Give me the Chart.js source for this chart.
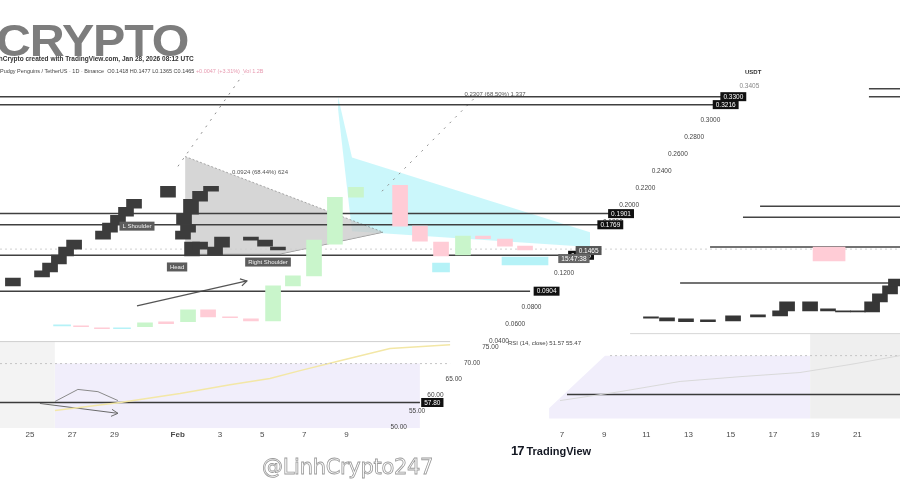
<!DOCTYPE html>
<html><head><meta charset="utf-8">
<script src="https://cdn.jsdelivr.net/npm/chart.js@4.4.1/dist/chart.umd.min.js"></script>
<style>
html,body{margin:0;padding:0;background:#fff;width:900px;height:482px;overflow:hidden;font-family:"Liberation Sans",Arial,sans-serif}
#wrap{position:relative;width:900px;height:482px}
#c{position:absolute;left:0;top:0}
.t{position:absolute;white-space:nowrap;line-height:1}
#logo{left:-4px;top:19px;font-size:44px;font-weight:bold;color:#7d7d7d;letter-spacing:-1px;transform:scaleX(1.1);transform-origin:left top}
#sub{left:-11px;top:56px;font-size:6.5px;color:#333;font-weight:bold}
#ohlc{left:0;top:69px;font-size:5.5px;color:#444}
#ohlc span{color:#e79ab0}
#usdt{left:745px;top:69px;font-size:6px;color:#333;font-weight:bold}
#rsilab{left:508px;top:340px;font-size:6px;color:#444}
#tv{left:511px;top:444px;font-size:11px;font-weight:bold;color:#131722}
#tv b{font-size:13px;margin-right:3px;letter-spacing:-1px}
#wm{left:262px;top:457px;font-size:21px;color:#fff;-webkit-text-stroke:0.8px #9a9a9a;font-family:"DejaVu Sans",sans-serif;letter-spacing:-0.3px}
</style></head><body>
<div id="wrap">
<canvas id="c" width="900" height="482"></canvas>
<div class="t" id="logo">CRYPTO</div>
<div class="t" id="sub">LinhCrypto created with TradingView.com, Jan 28, 2026 08:12 UTC</div>
<div class="t" id="ohlc">Pudgy Penguins / TetherUS · 1D · Binance &nbsp;O0.1418 H0.1477 L0.1365 C0.1465 <span>+0.0047 (+3.31%) &nbsp;Vol 1.2B</span></div>
<div class="t" id="usdt">USDT</div>
<div class="t" id="rsilab">RSI (14, close) 51.57 55.47</div>
<div class="t" id="tv"><b>17</b>TradingView</div>
<div class="t" id="wm">@LinhCrypto247</div>
</div>
<script>
// ---- x axis (day index, Jan 25 = 0) ----
const tickDays   = [0, 2, 4, 7, 9, 11, 13, 15, 25.21, 27.21, 29.21, 31.21, 33.21, 35.21, 37.21, 39.21];
const tickLabels = ["25","27","29","Feb","3","5","7","9","7","9","11","13","15","17","19","21"];

// ---- dark candles (left) ----
const darkDays   = [-0.81,0.57,0.95,1.37,1.71,2.09,3.46,3.79,4.17,4.55,4.93,6.54,7.25,7.30,7.49,7.63,7.68,8.06,8.06,8.58,8.77,9.10,10.47,11.14,11.75];
const darkTop    = [0.1141,0.1224,0.1318,0.1412,0.1506,0.1588,0.1694,0.1788,0.1882,0.1976,0.2071,0.2224,0.1694,0.1894,0.1765,0.2071,0.1565,0.2165,0.1565,0.2224,0.1506,0.1624,0.1624,0.1588,0.1506];
const darkBottom = [0.1047,0.1153,0.1212,0.1306,0.1400,0.1482,0.1600,0.1682,0.1776,0.1871,0.1965,0.2094,0.1600,0.1776,0.1682,0.1894,0.1400,0.2047,0.1482,0.2165,0.1412,0.1506,0.1588,0.1518,0.1471];

// ---- dark candles (right) ----
const rDays   = [29.43,30.19,31.09,32.13,33.32,34.50,35.55,35.88,36.97,37.82,38.53,39.24,39.91,40.28,40.76,41.04];
const rTop    = [0.0682,0.0671,0.0659,0.0647,0.0694,0.0706,0.0753,0.0859,0.0859,0.0776,0.0753,0.0753,0.0859,0.0953,0.1047,0.1129];
const rBottom = [0.0665,0.0635,0.0624,0.0624,0.0635,0.0682,0.0694,0.0753,0.0753,0.0753,0.0741,0.0741,0.0741,0.0859,0.0953,0.1047];

// ---- pastel candles ----
const gDays   = [5.45,7.49,11.52,12.46,13.46,14.45,15.45,20.52];
const gTop    = [0.0612,0.0765,0.1047,0.1165,0.1588,0.2094,0.2212,0.1635];
const gBottom = [0.0565,0.0624,0.0635,0.1047,0.1165,0.1541,0.2094,0.1412];
const pDays   = [2.42,3.41,6.45,8.44,9.48,10.47,17.54,18.48,19.48,21.47,22.51,23.46];
const pTop    = [0.0576,0.0553,0.0624,0.0765,0.0682,0.0659,0.2235,0.1753,0.1565,0.1635,0.1600,0.1518];
const pBottom = [0.0565,0.0541,0.0600,0.0682,0.0671,0.0635,0.1753,0.1576,0.1400,0.1606,0.1518,0.1471];
const pWideDays = [37.87], pWideTop = [0.1506], pWideBottom = [0.1341];
const cDays   = [1.52,4.36,19.48];
const cTop    = [0.0588,0.0553,0.1318];
const cBottom = [0.0576,0.0541,0.1212];
const cWideDays = [23.46], cWideTop = [0.1388], cWideBottom = [0.1294];

// ---- price levels ----
const levelValues = [0.3282,0.3188,0.1901,0.1769,0.1409,0.0985];
const levelLabels = ["0.3300","0.3216","0.1901","0.1769","0.1409","0.0904"];
const levelEnds   = [33.65,32.94,27.49,27.16,25.12,23.70];
const rLevelValues = [0.3376,0.3282,0.1988,0.1859,0.1506,0.1082];
const rLevelStarts = [39.76,39.76,34.60,33.79,32.23,30.81];
const dottedLevel = 0.1482;
const lastPrice = 0.1465, countdown = "15:47:38";
const priceTicks = [0.30,0.28,0.26,0.24,0.22,0.20,0.18,0.12,0.08,0.06,0.04];

// ---- drawings ----
const triDays = [7.35,11.85,16.73], triUpper = [0.2576,0.2147,0.1682], triLower = [0.1424,0.1424,0.1682];
const cyanDays = [14.60,15.26,26.54], cyanUpper = [0.3282,0.2565,0.1682], cyanLower = [0.3129,0.1694,0.1506];
const arrowDays = [5.07,10.28], arrowVals = [0.0812,0.1106];
const fan1Days = [7.01,10.09], fan1Vals = [0.2459,0.3541];
const fan2Days = [16.68,21.23], fan2Vals = [0.2165,0.3306];
const annTexts = ["L Shoulder","Head","Right Shoulder"], annDays = [5.07,6.97,11.28], annVals = [0.1753,0.1271,0.1329];
const measTexts = ["0.0924 (68.44%) 624","0.2307 (68.50%) 1,337"], measDays = [10.9,22.04], measVals = [0.2388,0.3306];

// ---- RSI ----
const rsiLeftDays  = [1.18,4.27,7.11,9.48,11.37,12.80,14.69,17.06,19.91];
const rsiLeftVals  = [55.3,57.8,60.6,63.4,65.3,67.8,70.9,74.7,75.9];
const rsiRightDays = [25.12,27.96,30.81,33.65,36.49,38.86,41.23];
const rsiRightVals = [58.4,61.2,64.4,65.9,67.2,69.7,72.5];
const rsiNow = 57.80;
const rsiTicks = [75,70,65,60,55,50];
const rsiDrawDays = [1.18,2.27,3.22,4.17], rsiDrawVals = [58.1,61.9,61.2,58.4];
const rsiArrowDays = [0.47,4.17], rsiArrowVals = [57.5,54.4];

const X0 = -1.422, X1 = 41.232;

function pts(xs, ys){ return xs.map((x,i)=>({x, y: ys[i]})); }
function bars(xs, top, bot){ return xs.map((x,i)=>({x, y:[bot[i], top[i]]})); }
function barSet(data, color, w){ return {type:'bar', data, backgroundColor:color, borderWidth:0, barThickness:w, grouped:false, minBarLength:1, yAxisID:'y', order:1}; }
function lineSet(data, color, w, axis, extra){ return Object.assign({type:'line', data, borderColor:color, borderWidth:w, pointRadius:0, fill:false, tension:0, yAxisID:axis, order:3}, extra||{}); }

const R = 'yRsi';
const datasets = [];
// RSI panel backgrounds
datasets.push(lineSet(pts([X0,1.18],[76.9,76.9]),'rgba(0,0,0,0)',0,R,{fill:{value:49.7},backgroundColor:'#f3f3f3',order:9}));
datasets.push(lineSet(pts([1.18,18.48],[70,70]),'rgba(0,0,0,0)',0,R,{fill:{value:49.7},backgroundColor:'#f1eefb',order:9}));
datasets.push(lineSet(pts([24.6,27.25,36.97],[56,72.5,72.5]),'rgba(0,0,0,0)',0,R,{fill:{value:52.8},backgroundColor:'#f1eefb',order:9}));
datasets.push(lineSet(pts([36.97,X1],[79.4,79.4]),'rgba(0,0,0,0)',0,R,{fill:{value:52.8},backgroundColor:'#efefef',order:9}));
// cyan & gray shapes
datasets.push(lineSet(pts(cyanDays,cyanUpper),'rgba(0,0,0,0)',0,'y',{fill:'+1',backgroundColor:'rgba(160,240,248,0.55)',order:8}));
datasets.push(lineSet(pts(cyanDays,cyanLower),'rgba(0,0,0,0)',0,'y',{order:8}));
datasets.push(lineSet(pts(triDays,triUpper),'rgba(120,120,120,0.6)',1,'y',{fill:'+1',backgroundColor:'rgba(200,200,200,0.75)',borderDash:[2,2],order:7}));
datasets.push(lineSet(pts(triDays,triLower),'rgba(110,110,110,0.8)',1,'y',{order:7}));
// RSI separators and lines
datasets.push(lineSet(pts([X0,19.91],[76.9,76.9]),'#cfcfcf',1,R));
datasets.push(lineSet(pts([28.44,X1],[79.4,79.4]),'#d6d6d6',1,R));
datasets.push(lineSet(pts([X0,19.91],[70,70]),'#c4c4c4',1,R,{borderDash:[2,3]}));
datasets.push(lineSet(pts([27.49,X1],[72.5,72.5]),'#c4c4c4',1,R,{borderDash:[2,3]}));
datasets.push(lineSet(pts(rsiLeftDays,rsiLeftVals),'#f3e7a6',1.5,R));
datasets.push(lineSet(pts(rsiRightDays,rsiRightVals),'#d9d9d9',1,R));
datasets.push(lineSet(pts(rsiDrawDays,rsiDrawVals),'#8a8a8a',1,R));
datasets.push(lineSet(pts(rsiArrowDays,rsiArrowVals),'#6a6a6a',1,R));
datasets.push(lineSet(pts([X0,18.48],[rsiNow,rsiNow]),'#3a3a3a',1.5,R));
datasets.push(lineSet(pts([25.45,X1],[60.3,60.3]),'#3a3a3a',1.5,R));
// price levels
levelValues.forEach((v,i)=>datasets.push(lineSet(pts([X0,levelEnds[i]],[v,v]),'#404040',1.5,'y')));
rLevelValues.forEach((v,i)=>datasets.push(lineSet(pts([rLevelStarts[i],X1],[v,v]),'#444444',1.5,'y')));
datasets.push(lineSet(pts([X0,X1],[dottedLevel,dottedLevel]),'#cfcfcf',1,'y',{borderDash:[2,3]}));
// drawings
datasets.push(lineSet(pts(arrowDays,arrowVals),'#555555',1.2,'y'));
datasets.push(lineSet(pts(fan1Days,fan1Vals),'#8c8c8c',1,'y',{borderDash:[2,6]}));
datasets.push(lineSet(pts(fan2Days,fan2Vals),'#8c8c8c',1,'y',{borderDash:[2,6]}));
// candles
datasets.push(barSet(bars(gDays,gTop,gBottom),'#c9f5cb',15));
datasets.push(barSet(bars(pDays,pTop,pBottom),'#ffccd6',15));
datasets.push(barSet(bars(pWideDays,pWideTop,pWideBottom),'#ffccd6',32));
datasets.push(barSet(bars(cDays,cTop,cBottom),'#b5f2f7',17));
datasets.push(barSet(bars(cWideDays,cWideTop,cWideBottom),'#b5f2f7',46));
datasets.push(barSet(bars(darkDays,darkTop,darkBottom),'#3c3c3c',15));
datasets.push(barSet(bars(rDays,rTop,rBottom),'#363636',15));

function box(ctx, text, cx, cy, bg, fg, font){
  ctx.font = font;
  const w = ctx.measureText(text).width + 6, h = 9;
  ctx.fillStyle = bg; ctx.fillRect(cx - w/2, cy - h/2, w, h);
  ctx.fillStyle = fg; ctx.textAlign='center'; ctx.textBaseline='middle';
  ctx.fillText(text, cx, cy + 0.5);
}

const labelPlugin = {
  id:'labels',
  afterDatasetsDraw(chart){
    const {ctx} = chart; const x = chart.scales.x, y = chart.scales.y, r = chart.scales[R];
    const shearP = py => 709 - (py - 122) * 0.96;
    const shearR = py => 490 - (py - 348) * 1.15;
    ctx.save();
    ctx.textAlign='center'; ctx.textBaseline='middle';
    ctx.font = '6.5px "Liberation Sans"'; ctx.fillStyle = '#444';
    priceTicks.forEach(v=>{ const py=y.getPixelForValue(v); ctx.fillText(v.toFixed(4), shearP(py), py); });
    ctx.fillStyle='#888'; const ty=y.getPixelForValue(0.3405); ctx.fillText('0.3405', shearP(ty)+6, ty);
    levelValues.forEach((v,i)=>{ const py=y.getPixelForValue(v); box(ctx, levelLabels[i], shearP(py), py, '#111', '#fff', '6.5px "Liberation Sans"'); });
    const lp = y.getPixelForValue(lastPrice);
    box(ctx, lastPrice.toFixed(4), shearP(lp)+3, lp, '#555', '#fff', '6.5px "Liberation Sans"');
    box(ctx, countdown, shearP(lp+8)-4, lp+8, '#666', '#fff', '6.5px "Liberation Sans"');
    ctx.fillStyle='#444'; ctx.font='6.5px "Liberation Sans"';
    rsiTicks.forEach(v=>{ const py=r.getPixelForValue(v); ctx.fillText(v.toFixed(2), shearR(py), py); });
    const rp = r.getPixelForValue(rsiNow);
    box(ctx, rsiNow.toFixed(2), shearR(rp)+5, rp, '#111', '#fff', '6.5px "Liberation Sans"');
    annTexts.forEach((t,i)=>{ box(ctx, t, x.getPixelForValue(annDays[i]), y.getPixelForValue(annVals[i]), '#5c5c5c', '#f2f2f2', '6px "Liberation Sans"'); });
    ctx.fillStyle='#555'; ctx.font='6px "Liberation Sans"';
    measTexts.forEach((t,i)=>{ ctx.fillText(t, x.getPixelForValue(measDays[i]), y.getPixelForValue(measVals[i])); });
    const ax = x.getPixelForValue(arrowDays[1]), ay = y.getPixelForValue(arrowVals[1]);
    ctx.strokeStyle='#555'; ctx.lineWidth=1.2; ctx.beginPath();
    ctx.moveTo(ax-7, ay-2); ctx.lineTo(ax, ay); ctx.lineTo(ax-5, ay+5); ctx.stroke();
    const bx = x.getPixelForValue(rsiArrowDays[1]), by = r.getPixelForValue(rsiArrowVals[1]);
    ctx.strokeStyle='#6a6a6a'; ctx.lineWidth=1; ctx.beginPath();
    ctx.moveTo(bx-6, by-4); ctx.lineTo(bx, by); ctx.lineTo(bx-7, by+3); ctx.stroke();
    ctx.restore();
  }
};

new Chart(document.getElementById('c'), {
  type:'bar',
  data:{datasets},
  options:{
    responsive:false, animation:false,
    layout:{padding:{left:0,right:0,top:0,bottom:40}},
    plugins:{legend:{display:false},tooltip:{enabled:false}},
    scales:{
      x:{type:'linear',min:X0,max:X1,offset:false,
         grid:{display:false,drawTicks:false},border:{display:false},
         afterBuildTicks:s=>{ s.ticks = tickDays.map(v=>({value:v})); },
         ticks:{autoSkip:false,maxRotation:0,minRotation:0,padding:2,color:'#4a4a4a',
                font:c=>({size:8,family:'Liberation Sans',weight:(c.index===3)?'bold':'normal'}),
                callback:(v,i)=>tickLabels[i]}},
      y:{display:false,min:-0.06353,max:0.44235},
      yRsi:{type:'linear',axis:'y',display:false,min:49.675,max:184.05}
    }
  },
  plugins:[labelPlugin]
});
</script>
</body></html>
